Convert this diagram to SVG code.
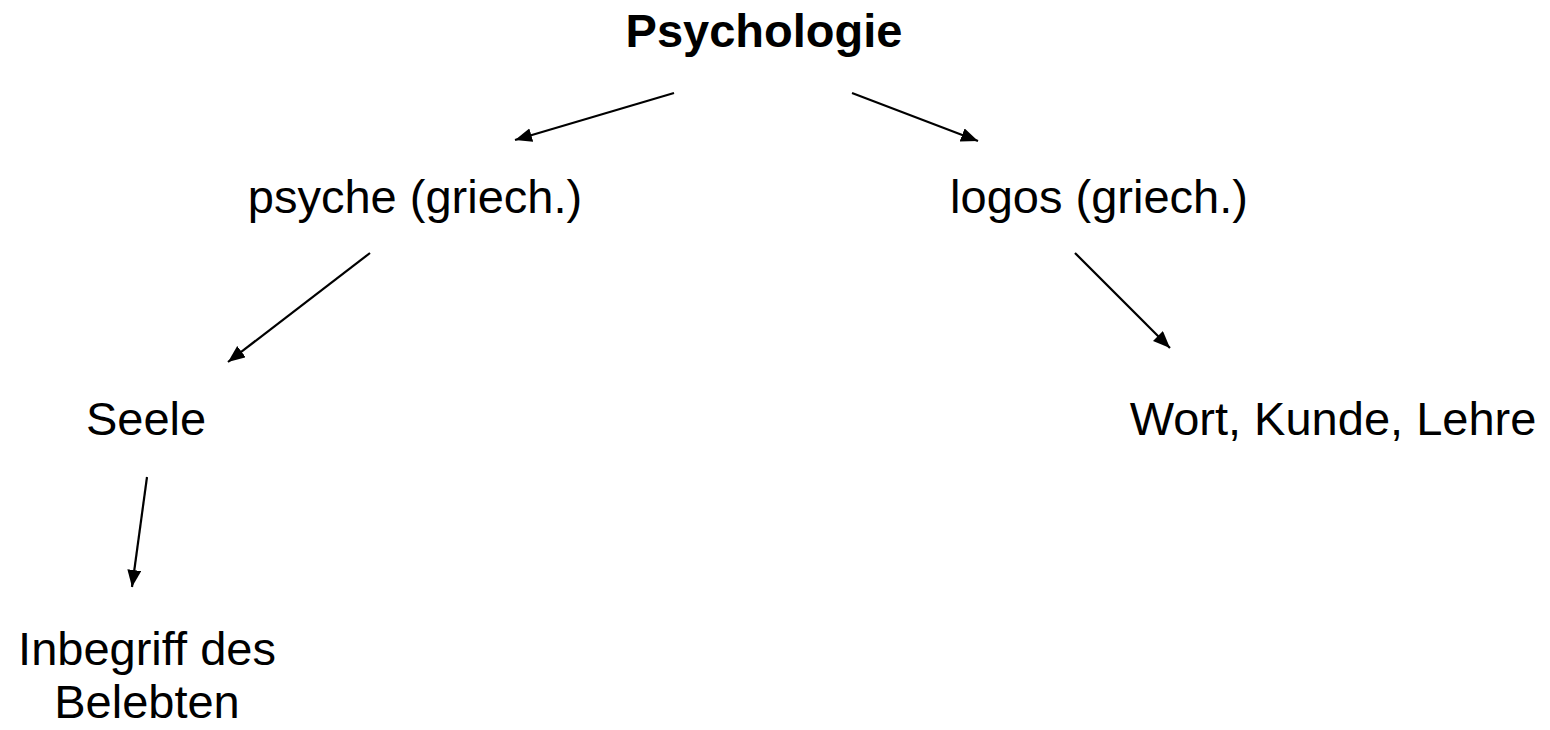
<svg xmlns="http://www.w3.org/2000/svg" width="1550" height="730" viewBox="0 0 1550 730">
<style>
text{font-family:"Liberation Sans",Arial,sans-serif;font-size:47px;fill:#000;text-anchor:middle}
.b{font-weight:bold}
.c line{stroke:#000;stroke-width:2.2;marker-end:url(#ah)}
</style>
<defs>
<marker id="ah" markerUnits="userSpaceOnUse" markerWidth="20" markerHeight="16" refX="17" refY="7" orient="auto">
<path d="M0,0 L17,7 L0,14 Z" fill="#000"/>
</marker>
</defs>
<rect width="1550" height="730" fill="#fff"/>
<g id="n-psychologie"><text class="b" x="764" y="47">Psychologie</text></g>
<g id="n-psyche"><text x="415" y="213">psyche (griech.)</text></g>
<g id="n-logos"><text x="1099" y="213">logos (griech.)</text></g>
<g id="n-seele"><text x="146" y="435">Seele</text></g>
<g id="n-wort"><text x="1333" y="435">Wort, Kunde, Lehre</text></g>
<g id="n-inbegriff"><text x="147" y="665">Inbegriff des</text><text x="147" y="718">Belebten</text></g>
<g id="connectors" class="c">
<line x1="674" y1="93" x2="515" y2="140"/>
<line x1="852" y1="93" x2="978" y2="141"/>
<line x1="370" y1="253" x2="228" y2="362"/>
<line x1="1075" y1="253" x2="1170" y2="348"/>
<line x1="147" y1="477" x2="132" y2="587"/>
</g>
</svg>
